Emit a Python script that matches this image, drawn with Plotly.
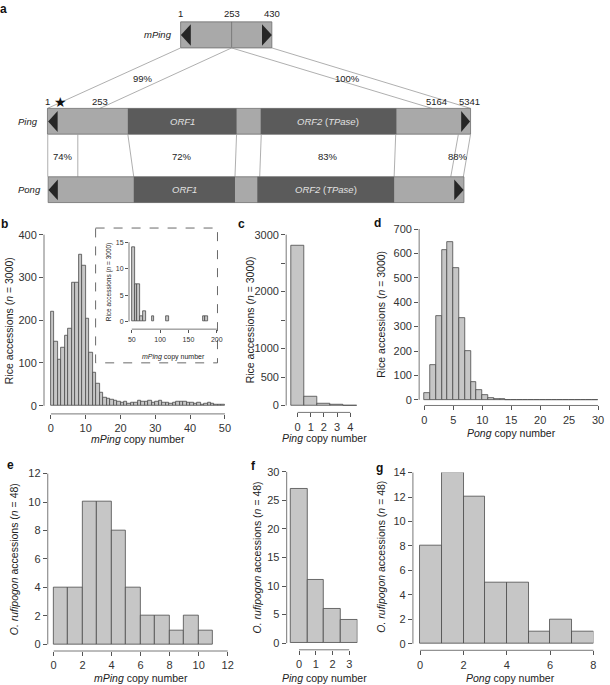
import plotly.graph_objects as go

W, H = 610, 685
FONT = "Liberation Sans"

# b: mPing copy number in 3000 rice accessions (bins of width 1, 0-50)
mping_counts = [220, 150, 107, 136, 163, 181, 288, 288, 353, 327,
                203, 123, 78, 52, 30, 18, 17, 15, 12, 10,
                8, 9, 5, 7, 8, 12, 10, 9, 11, 8,
                10, 12, 8, 8, 6, 7, 9, 10, 9, 7,
                7, 6, 7, 2, 5, 8, 4, 3, 2, 3]
# b inset: tail of the mPing distribution (bins of width 5)
mping_tail_left = [50, 55, 60, 65, 70, 85, 110, 175, 180]
mping_tail_counts = [14, 7, 7, 1, 2, 1, 1, 1, 1]
# c: Ping copy number (0-4)
ping_counts = [2800, 150, 35, 12, 3]
# d: Pong copy number (bins of width 1, 0-30)
pong_counts = [28, 141, 345, 612, 648, 542, 336, 200, 73, 40,
               20, 8, 4, 2, 1, 1, 1, 0, 1, 1,
               0, 0, 0, 0, 0, 1, 1, 0, 0, 0]
# e-g: O. rufipogon accessions (n = 48)
ruf_mping_counts = [4, 4, 10, 10, 8, 4, 2, 2, 1, 2, 1]
ruf_ping_counts = [27, 11, 6, 4]
ruf_pong_counts = [8, 14, 12, 5, 5, 1, 2, 1]


def px(x):
    return x / W


def py(y):
    return 1 - y / H


fig = go.Figure()
layout = {}
annotations = []
shapes = []

BAR_FILL = "#c6c6c6"
BAR_LINE = "#4a4a4a"
AX = "#555555"


def pline(x0, y0, x1, y1, color=AX, width=0.8, dash=None):
    shapes.append(dict(type="line", xref="paper", yref="paper", x0=px(x0), y0=py(y0),
                       x1=px(x1), y1=py(y1), line=dict(color=color, width=width, dash=dash)))


def add_panel(n, xs, ys, widths, xpix, xrange, ypix, yrange, xline, yline,
              xticks, yticks, yticktext=None, size=11, ticklen=4):
    # R-style detached axes: the plot area is stretched so its left/bottom edges sit
    # where the axis lines are drawn; lines only span the first..last tick.
    suffix = "" if n == 1 else str(n)
    xs_scale = (xpix[1] - xpix[0]) / (xrange[1] - xrange[0])
    ys_scale = (ypix[0] - ypix[1]) / (yrange[1] - yrange[0])
    x_lo = xrange[0] - (xpix[0] - yline) / xs_scale
    y_lo = yrange[0] - (xline - ypix[0]) / ys_scale
    fig.add_trace(go.Bar(x=xs, y=ys, width=widths, xaxis="x" + suffix, yaxis="y" + suffix,
                         marker=dict(color=BAR_FILL, line=dict(color=BAR_LINE, width=0.8)),
                         showlegend=False, hoverinfo="x+y"))
    common = dict(showgrid=False, zeroline=False, showline=False,
                  ticks="outside", ticklen=ticklen, tickwidth=0.8, tickcolor=AX,
                  tickfont=dict(family=FONT, size=size, color="#333333"))
    layout["xaxis" + suffix] = dict(common, domain=[px(yline), px(xpix[1])], range=[x_lo, xrange[1]],
                                    anchor="y" + suffix, tickmode="array", tickvals=xticks)
    ydict = dict(common, domain=[py(xline), py(ypix[1])], range=[y_lo, yrange[1]],
                 anchor="x" + suffix, tickmode="array", tickvals=yticks)
    if yticktext:
        ydict["ticktext"] = yticktext
    layout["yaxis" + suffix] = ydict
    # axis lines from first to last tick
    pline(xpix[0] + (xticks[0] - xrange[0]) * xs_scale, xline,
          xpix[0] + (xticks[-1] - xrange[0]) * xs_scale, xline)
    pline(yline, ypix[0] - (yticks[0] - yrange[0]) * ys_scale,
          yline, ypix[0] - (yticks[-1] - yrange[0]) * ys_scale)


def hist_args(counts, width=1, start=0):
    xs = [start + width * (i + 0.5) for i in range(len(counts))]
    return xs, counts, [width] * len(counts)


# panel b
add_panel(1, *hist_args(mping_counts), [50.5, 226.5], [0, 50], [403.3, 230.7], [0, 400],
          411.5, 43.5, [0, 10, 20, 30, 40, 50], [0, 100, 200, 300, 400])
# inset
add_panel(2, [l + 2.5 for l in mping_tail_left], mping_tail_counts, [5] * len(mping_tail_left),
          [132.3, 218.3], [50, 200], [318.3, 238.3], [0, 15], 326, 129.5,
          [50, 100, 150, 200], [0, 5, 10, 15], size=7, ticklen=3)
# panel c
add_panel(3, list(range(len(ping_counts))), ping_counts, [1] * len(ping_counts),
          [293.3, 360], [-0.5, 4.5], [403, 230.7], [0, 3000], 410, 288.5,
          [0, 1, 2, 3, 4], [0, 500, 1000, 1500, 2000, 2500, 3000],
          yticktext=["0", "500", "1000", "", "2000", "", "3000"])
# panel d
add_panel(4, *hist_args(pong_counts), [428.3, 604], [0, 30], [397.3, 225], [0, 700],
          403, 423, [0, 5, 10, 15, 20, 25, 30], list(range(0, 701, 100)))
# panel e
add_panel(5, *hist_args(ruf_mping_counts), [53.3, 229.3], [0, 12], [644, 471.7], [0, 12],
          650.7, 47.3, list(range(0, 13, 2)), list(range(0, 13, 2)))
# panel f
add_panel(6, list(range(len(ruf_ping_counts))), ruf_ping_counts, [1] * len(ruf_ping_counts),
          [293, 360.7], [-0.5, 3.5], [642.7, 470], [0, 30], 649.5, 289,
          [0, 1, 2, 3], [0, 5, 10, 15, 20, 25, 30])
# panel g
add_panel(7, *hist_args(ruf_pong_counts), [424, 599.3], [0, 8], [643.3, 470.7], [0, 14],
          650, 416.7, [0, 2, 4, 6, 8], list(range(0, 15, 2)))


def text(x, y, s, size=10.5, angle=0, color="#222222", anchor="center", bold=False, family=FONT):
    if bold:
        s = "<b>" + s + "</b>"
    annotations.append(dict(x=px(x), y=py(y), xref="paper", yref="paper", text=s,
                            showarrow=False, textangle=angle, xanchor=anchor, yanchor="middle",
                            borderpad=0, font=dict(family=family, size=size, color=color)))


rice_title = "Rice accessions (<i>n</i> = 3000)"
ruf_title = "<i>O. rufipogon</i> accessions (<i>n</i> = 48)"
text(138.5, 437, "<i>mPing</i> copy number")
text(8, 317, rice_title, angle=-90)
text(175, 354, "<i>mPing</i> copy number", size=7)
text(109, 278, rice_title, size=6.5, angle=-90)
text(327, 436, "<i>Ping</i> copy number")
text(252, 317, rice_title, angle=-90)
text(516, 431, "<i>Pong</i> copy number")
text(385, 311, rice_title, angle=-90)
text(141.7, 678, "<i>mPing</i> copy number")
text(13.3, 558, ruf_title, angle=-90)
text(327, 678, "<i>Ping</i> copy number")
text(259.3, 556, ruf_title, angle=-90)
text(515, 678, "<i>Pong</i> copy number")
text(385, 556, ruf_title, angle=-90)

for lab, x, y in [("a", 3, 3), ("b", 4, 220), ("c", 243, 220), ("d", 381, 219),
                  ("e", 10, 463), ("f", 255, 464), ("g", 383, 466)]:
    text(x, y, lab, size=12, bold=True, color="#111111")

# inset dashed frame
shapes.append(dict(type="rect", xref="paper", yref="paper", x0=px(95.7), x1=px(219),
                   y0=py(224), y1=py(360), line=dict(color="#444444", width=0.8, dash="dash")))

# ---- panel a: element diagram (pixel geometry) ----
LIGHT = "#a9a9a9"
DARK = "#5b5b5b"
EDGE = "#6e6e6e"
TRI = "#262626"
CONNECT = "#9a9a9a"
DFS = 9.5


def rect(x0, x1, y0, y1, fill, edge=None):
    shapes.append(dict(type="rect", xref="paper", yref="paper", x0=px(x0), x1=px(x1),
                       y0=py(y0), y1=py(y1), fillcolor=fill,
                       line=dict(color=edge or fill, width=0.8 if edge else 0)))


def line(x0, y0, x1, y1, color=CONNECT):
    pline(x0, y0, x1, y1, color=color)


def tri(x_tip, x_base, y0, y1):
    ym = (y0 + y1) / 2
    path = "M {},{} L {},{} L {},{} Z".format(px(x_tip), py(ym), px(x_base), py(y0), px(x_base), py(y1))
    shapes.append(dict(type="path", xref="paper", yref="paper", path=path,
                       fillcolor=TRI, line=dict(width=0)))


# mPing
rect(181.7, 274, 16, 42.3, LIGHT, EDGE)
line(233.3, 16, 233.3, 42.3, EDGE)
tri(182, 192, 18.5, 40)
tri(274, 264, 18.5, 40)
text(174, 29, "<i>mPing</i>", size=DFS, anchor="right")
text(182, 8, "1", size=DFS)
text(233.3, 8, "253", size=DFS)
text(274, 8, "430", size=DFS)

# connecting lines mPing -> Ping
line(181.7, 42.3, 47, 103.3)
line(233.3, 42.3, 100, 103.3)
line(233.3, 42.3, 436, 103.3)
line(274, 42.3, 475, 103.3)
text(144, 73, "99%", size=DFS)
text(351, 73, "100%", size=DFS)

# Ping
rect(47, 475, 103.3, 129.3, LIGHT, EDGE)
rect(128.3, 238.3, 103.3, 129.3, DARK)
rect(262.7, 400, 103.3, 129.3, DARK)
tri(47.7, 57.3, 106, 127)
tri(474.5, 465.5, 106, 127)
text(38.5, 117, "<i>Ping</i>", size=DFS, anchor="right")
text(183.3, 116.5, "<i>ORF1</i>", size=DFS, color="#e2e2e2")
text(331.3, 116.5, "<i>ORF2</i> (<i>TPase</i>)", size=DFS, color="#e2e2e2")
text(46.7, 96.5, "1", size=DFS)
text(100, 96.5, "253", size=DFS)
text(441, 96.5, "5164", size=DFS)
text(474, 96.5, "5341", size=DFS)
text(60, 97, "\u2605", size=14, color="#111111", family="DejaVu Sans")

# Ping -> Pong similarity lines
line(47.3, 129.3, 47.3, 172.3)
line(77.7, 129.3, 77.7, 172.3)
line(128.3, 129.3, 134.3, 172.3)
line(238.3, 129.3, 236.7, 172.3)
line(263.3, 129.3, 261.7, 172.3)
line(399.3, 129.3, 397.7, 172.3)
line(462.7, 129.3, 455, 172.3)
line(475, 129.3, 467.7, 172.3)
text(63, 152, "74%", size=DFS)
text(183, 152, "72%", size=DFS)
text(331, 152, "83%", size=DFS)
text(462, 152, "88%", size=DFS)

# Pong
rect(47.7, 468.3, 172.3, 198.3, LIGHT, EDGE)
rect(134.3, 236.7, 172.3, 198.3, DARK)
rect(259.3, 397.7, 172.3, 198.3, DARK)
tri(48, 57.5, 175, 196)
tri(468, 458.5, 175, 196)
text(41.5, 185, "<i>Pong</i>", size=DFS, anchor="right")
text(185.5, 185.5, "<i>ORF1</i>", size=DFS, color="#e2e2e2")
text(328.5, 185.5, "<i>ORF2</i> (<i>TPase</i>)", size=DFS, color="#e2e2e2")

fig.update_layout(width=W, height=H, margin=dict(l=0, r=0, t=0, b=0),
                  paper_bgcolor="white", plot_bgcolor="rgba(0,0,0,0)", bargap=0,
                  font=dict(family=FONT, color="#222222"),
                  annotations=annotations, shapes=shapes, **layout)
fig.write_html("out.html", config={"displayModeBar": False},
               post_script="document.body.style.margin = '0';")
